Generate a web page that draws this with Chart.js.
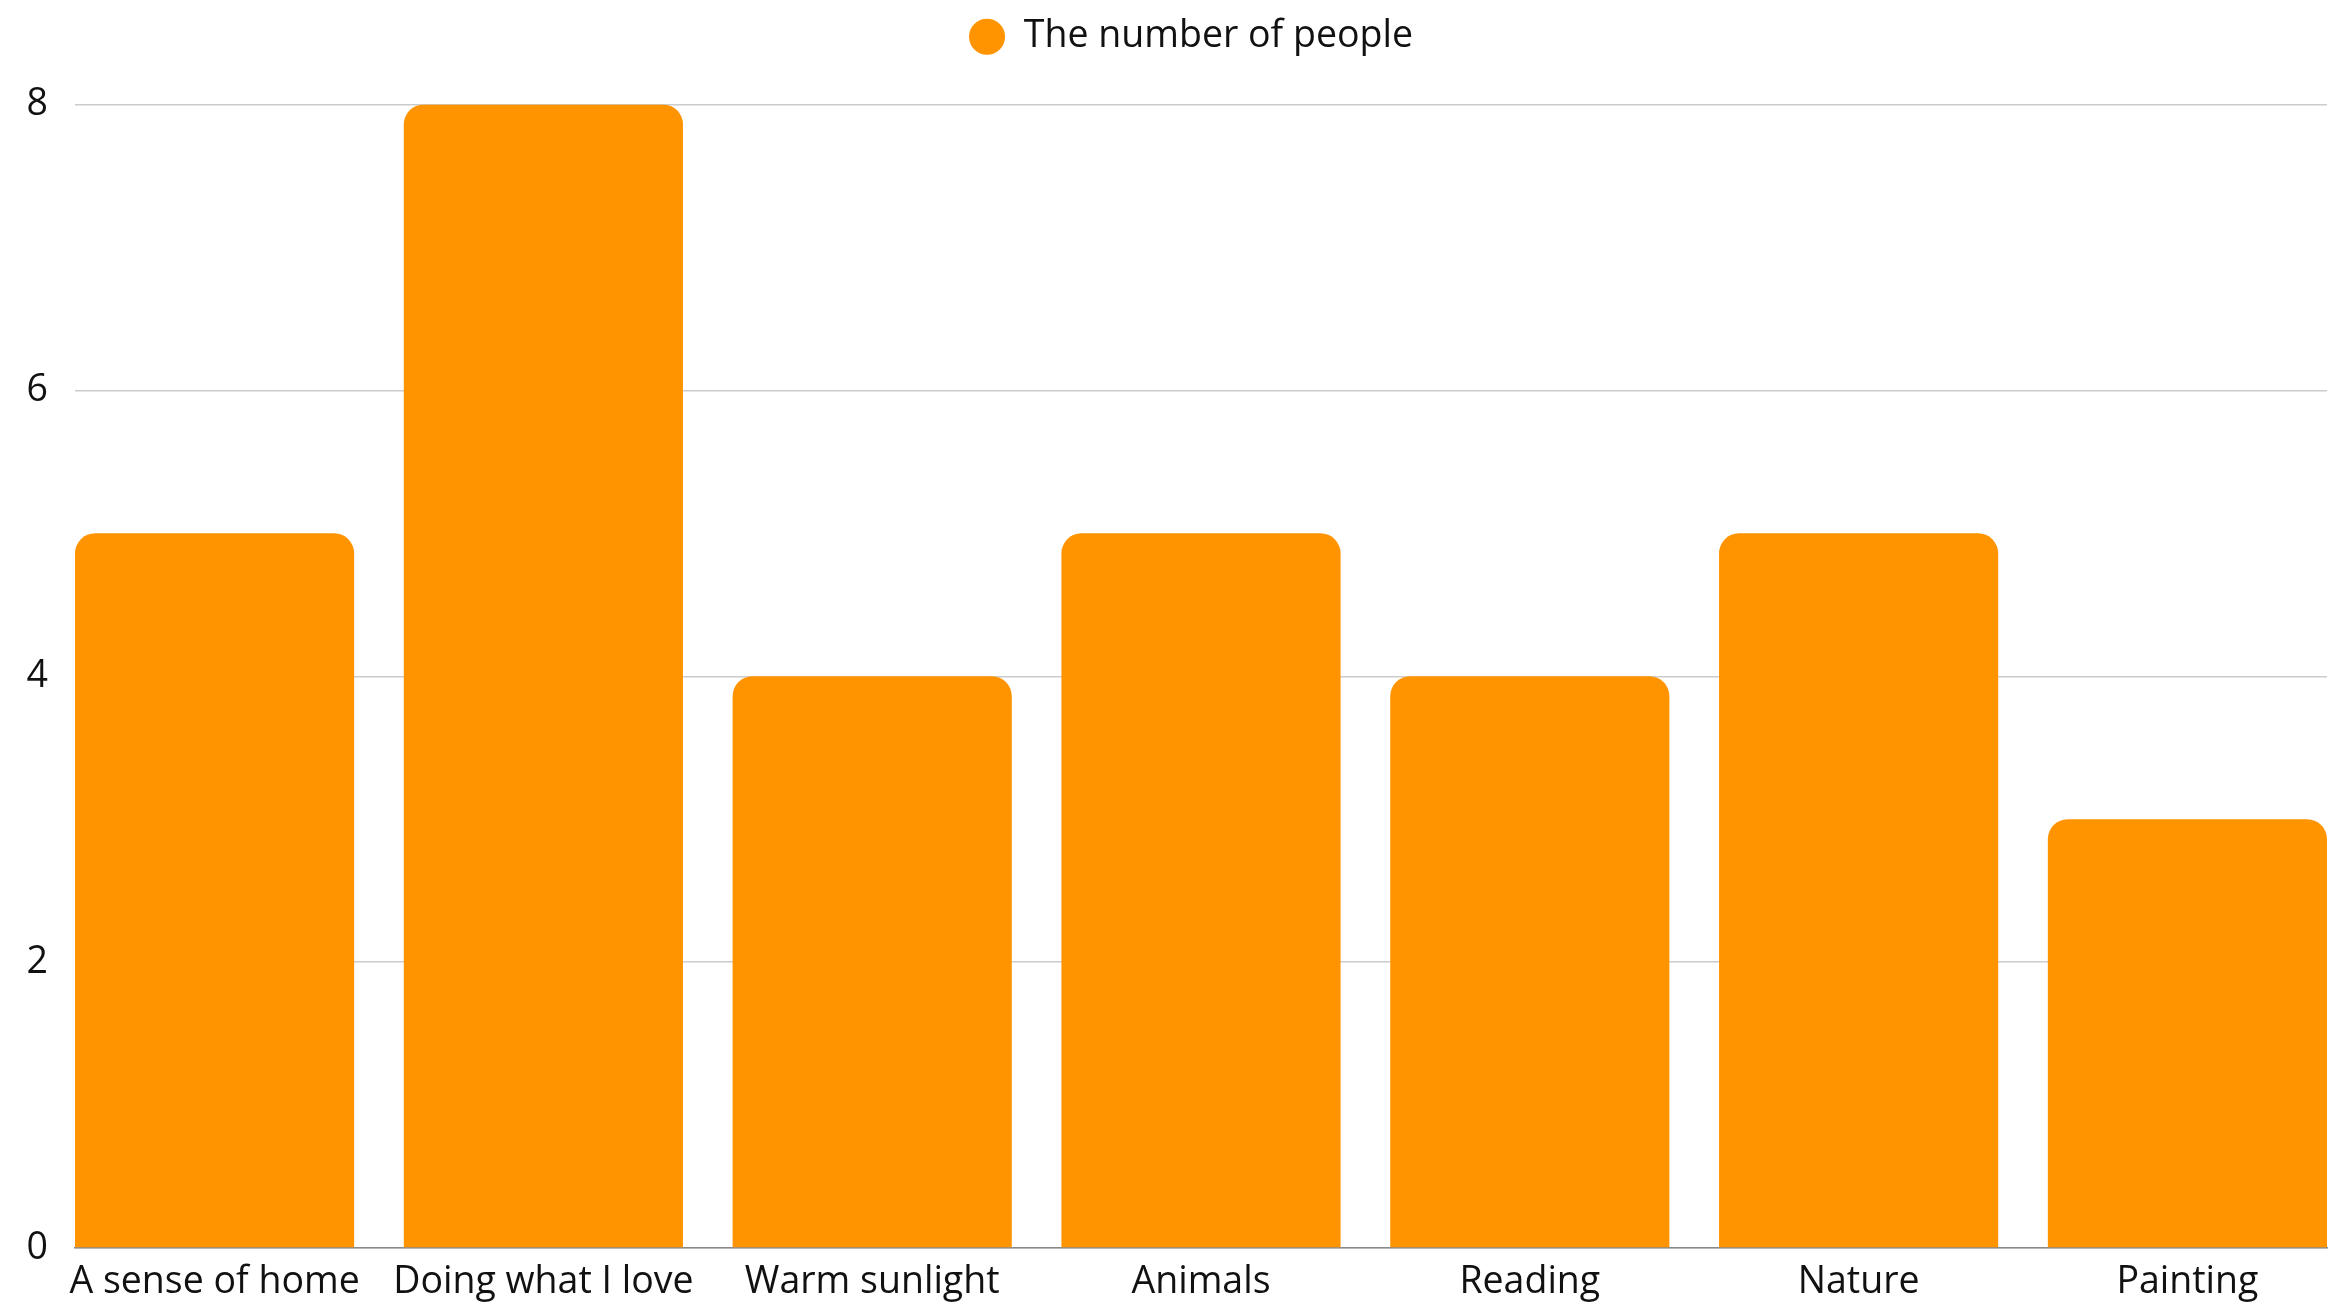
<!DOCTYPE html>
<html>
<head>
<meta charset="utf-8">
<script src="https://cdn.jsdelivr.net/npm/chart.js@4/dist/chart.umd.min.js"></script>
<style>
  html,body{margin:0;padding:0;background:#fff}
  #wrap{width:2340px;height:1302px}
</style>
</head>
<body>
<div id="wrap"><canvas id="chart"></canvas></div>
<script>
// data
const categories = ['A sense of home','Doing what I love','Warm sunlight','Animals','Reading','Nature','Painting'];
const people = [5, 8, 4, 5, 4, 5, 3];
const yTicks = [0, 2, 4, 6, 8];
const seriesLabel = 'The number of people';

const FONT = "'Open Sans', sans-serif";
const ORANGE = '#ff9400';
const FS = 37.5;

Chart.defaults.font.family = FONT;
Chart.defaults.color = '#111';

// bars sit on a linear x scale so the outer bars touch the plot edges
const points = people.map((v,i)=>({x:i, y:v}));
const half = 0.4245;

const legendSpace = {
  id:'legendSpace',
  beforeInit(chart){
    const fit = chart.legend.fit;
    chart.legend.fit = function(){ fit.bind(chart.legend)(); this.height += 39; };
  },
  afterLayout(chart){ chart.legend.left += 30; }
};

new Chart(document.getElementById('chart').getContext('2d'), {
  type:'bar',
  data:{ datasets:[{ label:seriesLabel, data:points, backgroundColor:ORANGE, borderWidth:0,
    borderRadius:{topLeft:20, topRight:20, bottomLeft:0, bottomRight:0}, borderSkipped:'bottom',
    barPercentage:0.849, categoryPercentage:1 }] },
  options:{
    responsive:true, maintainAspectRatio:false, animation:false,
    layout:{ padding:{left:25, right:13, top:0, bottom:0} },
    plugins:{
      legend:{ position:'top', labels:{ usePointStyle:true, pointStyle:'circle', boxWidth:36, boxHeight:25.5,
        padding:18, color:'#111', font:{size:FS, family:FONT} } },
      tooltip:{enabled:false}
    },
    scales:{
      x:{ type:'linear', min:-half, max:categories.length-1+half, offset:false, bounds:'data',
        afterBuildTicks:s=>{ s.ticks = categories.map((_,i)=>({value:i})); },
        afterFit:s=>{ s.paddingLeft = 0; s.paddingRight = 0; s.height = 54; },
        ticks:{ autoSkip:false, maxRotation:0, minRotation:0, padding:12, color:'#111',
          font:{size:FS, family:FONT}, callback:v=>categories[v] },
        grid:{ display:false, drawTicks:false },
        border:{ display:true, color:'#8a8a8a', width:1.5 } },
      y:{ min:0, max:8,
        afterBuildTicks:s=>{ s.ticks = yTicks.map(v=>({value:v})); },
        afterFit:s=>{ s.paddingBottom = 0; s.width = 50; },
        ticks:{ padding:27, color:'#111', font:{size:FS, family:FONT} },
        grid:{ color:'#cccccc', lineWidth:1.5, drawTicks:false },
        border:{ display:false } }
    }
  },
  plugins:[legendSpace]
});
</script>
</body>
</html>
